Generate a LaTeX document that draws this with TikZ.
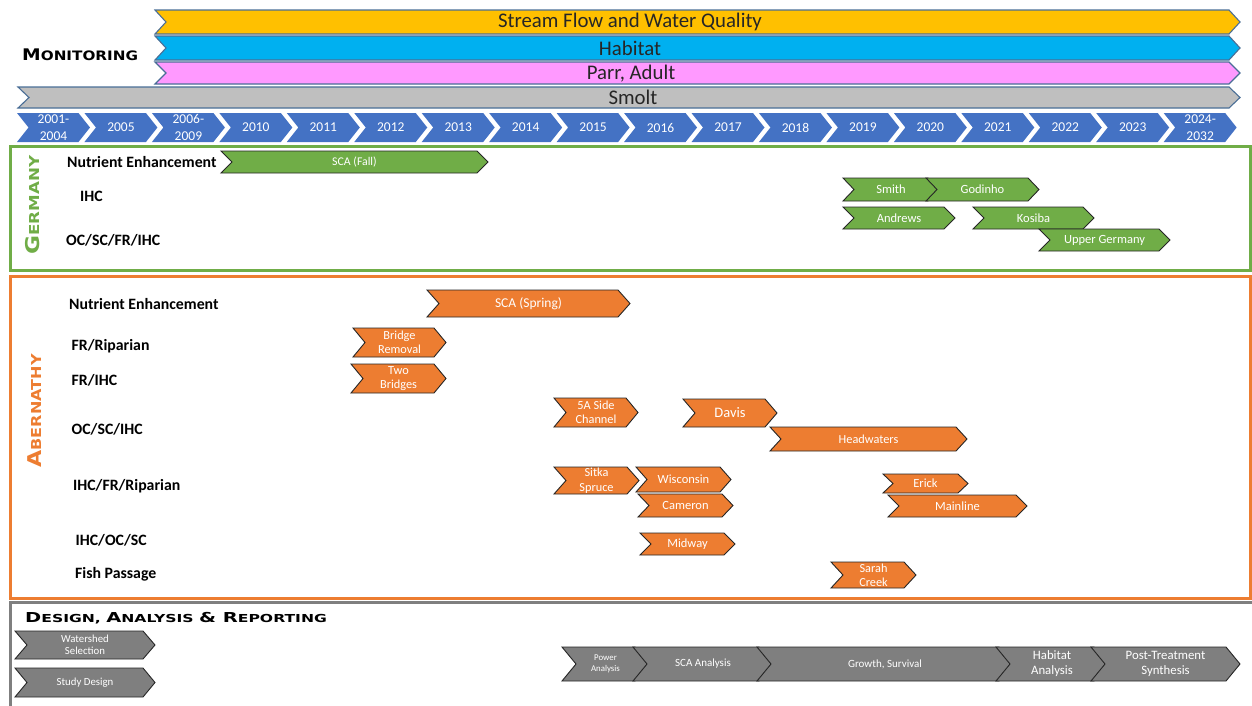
\documentclass[tikz,border=0pt]{standalone}
\usepackage{fontspec}
\setmainfont{Carlito}
\newfontfamily\cpfont{DejaVu Sans}
\definecolor{mYel}{HTML}{FFC000}
\definecolor{mBlu}{HTML}{00B0F0}
\definecolor{mPnk}{HTML}{FF99FF}
\definecolor{mGry}{HTML}{BFBFBF}
\definecolor{mLine}{HTML}{4A6E96}
\definecolor{tBlu}{HTML}{4472C4}
\definecolor{gGrn}{HTML}{70AD47}
\definecolor{aOrg}{HTML}{ED7D31}
\definecolor{dGry}{HTML}{7F7F7F}
\definecolor{txtDark}{HTML}{262626}
% chevron outline: x1, x2, ytop, ybot, depth, style
\newcommand\chvpath[6]{%
  \path[#6] (#1,#3) -- ({#2-#5},#3) -- (#2,{(#3+#4)/2}) -- ({#2-#5},#4) -- (#1,#4) -- ({#1+#5},{(#3+#4)/2}) -- cycle;}
% chevron with centred named node: name, x1, x2, ytop, ybot, depth, path style, node style, text
\newcommand\chv[9]{%
  \chvpath{#2}{#3}{#4}{#5}{#6}{#7}
  \node[#8] (#1) at ({(#2+#3)/2},{(#4+#5)/2}) {#9};}
\begin{document}
\begin{tikzpicture}[x=1pt,y=-1pt,
  mon/.style={draw=mLine, line width=1.1pt},
  gbar/.style={fill=gGrn, draw=black!85, line width=0.9pt},
  obar/.style={fill=aOrg, draw=black!85, line width=0.9pt},
  dbar/.style={fill=dGry, draw=black!85, line width=0.9pt},
  wtxt/.style={text=white, align=center, inner sep=0pt},
  ytxt/.style={text=white, align=center, inner sep=0pt, font=\fontsize{13.5}{16.5}\selectfont},
  rowlab/.style={anchor=west, inner sep=0pt, text=black, font=\fontsize{15.8}{16}\selectfont\bfseries},
  montxt/.style={inner sep=0pt, text=txtDark, font=\fontsize{20.8}{22}\selectfont},
  cptitle/.style={inner sep=0pt, font=\cpfont\bfseries},
]
\useasboundingbox (0,0) rectangle (1252,705);
\clip (0,0) rectangle (1252,705);

% ---------------- Monitoring ----------------
\node[cptitle, anchor=west] (montitle) at (22,55) {\scalebox{1.17}[1]{\fontsize{16}{16}\selectfont M\fontsize{13}{13}\selectfont ONITORING}};
\chvpath{155}{1240}{10}{34}{11}{mon,fill=mYel}
\node[montxt] (sf) at (630,22) {Stream Flow and Water Quality};
\chvpath{155}{1240}{36}{60}{11}{mon,fill=mBlu}
\node[montxt] (hab) at (630,48) {Habitat};
\chvpath{155}{1240}{62}{84}{11}{mon,fill=mPnk}
\node[montxt] (parr) at (631,73.5) {Parr, Adult};
\chvpath{18}{1240}{87}{108}{11}{mon,fill=mGry}
\node[montxt] (smolt) at (633,97.5) {Smolt};

% ---------------- Timeline ----------------
\foreach \i/\lab in {0/{2001-\\2004},1/2005,2/{2006-\\2009},3/2010,4/2011,5/2012,6/2013,7/2014,8/2015,9/2016,10/2017,11/2018,12/2019,13/2020,14/2021,15/2022,16/2023,17/{2024-\\2032}}{
  \pgfmathsetmacro\xa{17+67.45*\i}
  \pgfmathsetmacro\xb{\xa+73}
  \chvpath{\xa}{\xb}{113}{142}{11.5}{fill=tBlu}
  \node[ytxt] (y\i) at ({(\xa+\xb)/2},127.5) {\lab};
}

% ---------------- Germany ----------------
\draw[gGrn, line width=3pt] (10,146) rectangle (1250,270);
\node[cptitle, rotate=90, text=gGrn] (germ) at (33,205) {\scalebox{1.22}[1]{\fontsize{19}{19}\selectfont G\fontsize{13.7}{14}\selectfont ERMANY}};
\node[rowlab] (gne) at (67,162) {Nutrient Enhancement};
\node[rowlab] (gihc) at (80,196) {IHC};
\node[rowlab] (goc) at (66,240) {OC/SC/FR/IHC};
\chv{scaf}{221}{488}{151}{173}{11}{gbar}{wtxt,font=\fontsize{11.8}{12}\selectfont}{SCA (Fall)}
\chv{smith}{843}{939}{178}{201}{11}{gbar}{wtxt,font=\fontsize{12.5}{13}\selectfont}{Smith}
\chv{godinho}{926}{1039}{178}{201}{11}{gbar}{wtxt,font=\fontsize{12.5}{13}\selectfont}{Godinho}
\chv{andrews}{843}{955}{207}{229}{11}{gbar}{wtxt,font=\fontsize{12.5}{13}\selectfont}{Andrews}
\chv{kosiba}{973}{1094}{207}{229}{11}{gbar}{wtxt,font=\fontsize{12.5}{13}\selectfont}{Kosiba}
\chv{upper}{1039}{1170}{229}{251}{11}{gbar}{wtxt,font=\fontsize{12.5}{13}\selectfont}{Upper Germany}

% ---------------- Abernathy ----------------
\draw[aOrg, line width=3pt] (10,276) rectangle (1250,598);
\node[cptitle, rotate=90, text=aOrg] (aber) at (35,411) {\scalebox{1.17}[1]{\fontsize{19}{19}\selectfont A\fontsize{13.7}{14}\selectfont BERNATHY}};
\node[rowlab] (ane) at (69,304) {Nutrient Enhancement};
\node[rowlab] (afr) at (71.5,346) {FR/Riparian};
\node[rowlab] (afi) at (71.5,380) {FR/IHC};
\node[rowlab] (aoc) at (71.5,429) {OC/SC/IHC};
\node[rowlab] (aif) at (73,486) {IHC/FR/Riparian};
\node[rowlab] (aio) at (75.5,540) {IHC/OC/SC};
\node[rowlab] (afp) at (75,574) {Fish Passage};
\chv{scas}{427}{630}{290}{317}{12}{obar}{wtxt,font=\fontsize{13.5}{14}\selectfont}{SCA (Spring)}
\chv{bridge}{353}{446}{328}{357}{12}{obar}{wtxt,font=\fontsize{12.3}{13.5}\selectfont}{Bridge\\Removal}
\chv{twob}{351}{446}{364}{393}{12}{obar}{wtxt,font=\fontsize{12.3}{13.5}\selectfont}{Two\\Bridges}
\chv{side}{554}{638}{398}{427}{12}{obar}{wtxt,font=\fontsize{12.3}{13.5}\selectfont}{5A Side\\Channel}
\chv{davis}{683}{777}{399}{427}{12}{obar}{wtxt,font=\fontsize{14.5}{15}\selectfont}{Davis}
\chv{head}{770}{967}{427}{451}{11}{obar}{wtxt,font=\fontsize{12.3}{13}\selectfont}{Headwaters}
\chv{sitka}{554}{639}{467}{494}{12}{obar}{wtxt,font=\fontsize{12.3}{14.5}\selectfont}{Sitka\\Spruce}
\chv{wisc}{636}{731}{467}{492}{11}{obar}{wtxt,font=\fontsize{12.5}{13}\selectfont}{Wisconsin}
\chv{cam}{638}{733}{494}{517}{11}{obar}{wtxt,font=\fontsize{12.5}{13}\selectfont}{Cameron}
\chv{erick}{883}{968}{474}{493}{10}{obar}{wtxt,font=\fontsize{12.5}{13}\selectfont}{Erick}
\chv{mainl}{888}{1027}{495}{517}{11}{obar}{wtxt,font=\fontsize{12.5}{13}\selectfont}{Mainline}
\chv{midway}{640}{735}{533}{555}{11}{obar}{wtxt,font=\fontsize{12.5}{13}\selectfont}{Midway}
\chv{sarah}{831}{916}{562}{588}{12}{obar}{wtxt,font=\fontsize{12.3}{14}\selectfont}{Sarah\\Creek}

% ---------------- Design, Analysis & Reporting ----------------
\draw[dGry, line width=3pt] (10,715) -- (10,602) -- (1260,602);
\node[cptitle, anchor=west] (dtitle) at (25,618) {\scalebox{1.42}[1]{\fontsize{13.7}{14}\selectfont D\fontsize{11}{11}\selectfont ESIGN, \fontsize{13.7}{14}\selectfont A\fontsize{11}{11}\selectfont NALYSIS \fontsize{13.7}{14}\selectfont\& R\fontsize{11}{11}\selectfont EPORTING}};
\chv{water}{15}{155}{631}{659}{12}{dbar}{wtxt,font=\fontsize{10.8}{11.5}\selectfont}{Watershed\\Selection}
\chv{study}{15}{155}{668}{697}{12}{dbar}{wtxt,font=\fontsize{10.8}{11.5}\selectfont}{Study Design}
\chv{power}{562}{649}{647}{681}{14}{dbar}{wtxt,font=\fontsize{8.8}{11}\selectfont}{Power\\Analysis}
\chv{scaan}{633}{773}{647}{681}{14}{dbar}{wtxt,font=\fontsize{11}{12}\selectfont}{SCA Analysis}
\chv{growth}{757}{1013}{647}{681}{14}{dbar}{wtxt,font=\fontsize{11}{12}\selectfont}{Growth, Survival}
\chv{habit}{996}{1108}{647}{681}{14}{dbar}{wtxt,font=\fontsize{12.8}{15}\selectfont}{Habitat\\Analysis}
\chv{post}{1091}{1240}{647}{681}{14}{dbar}{wtxt,font=\fontsize{12.8}{15}\selectfont}{Post-Treatment\\Synthesis}
\end{tikzpicture}
\end{document}
